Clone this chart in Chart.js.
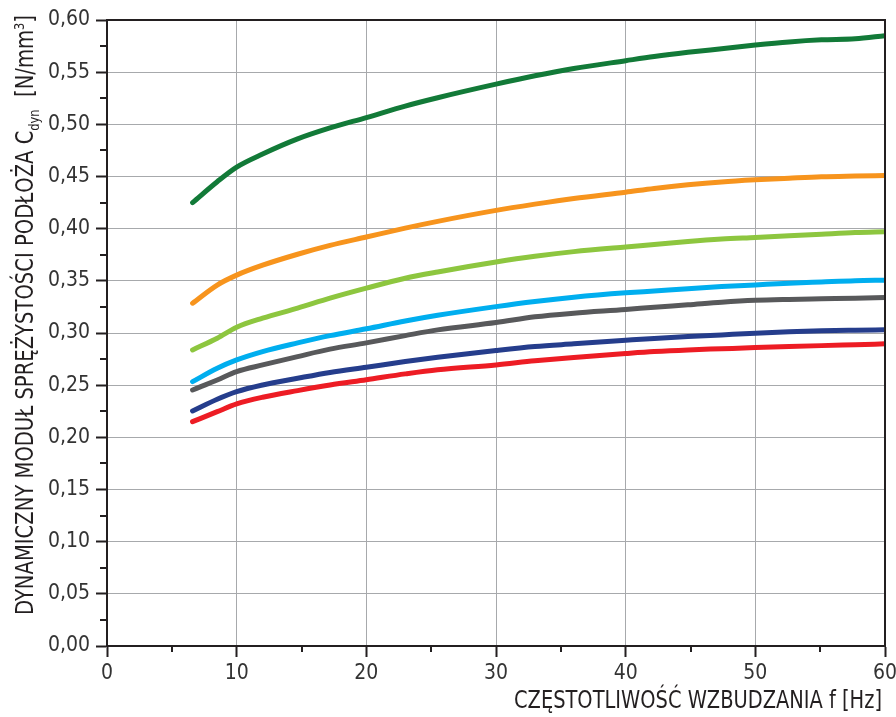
<!DOCTYPE html>
<html><head><meta charset="utf-8">
<script src="https://cdn.jsdelivr.net/npm/chart.js@4"></script>
<style>html,body{margin:0;padding:0;background:#fff}#wrap{width:896px;height:717px;position:relative}</style>
</head><body><div id="wrap"><canvas id="c" width="896" height="717"></canvas></div>
<script>
// ---- data ----
const frequencies = [6.6, 8.5, 10, 12, 14.7, 17.2, 20, 23, 25.5, 30, 33, 36, 40, 42.2, 44.8, 47.4, 50, 52.6, 55.1, 57.7, 60];
const seriesDarkGreen = [0.425, 0.445, 0.459, 0.4715, 0.486, 0.4965, 0.5065, 0.5175, 0.5255, 0.5385, 0.5465, 0.5535, 0.561, 0.565, 0.569, 0.5725, 0.576, 0.579, 0.581, 0.582, 0.585];
const seriesOrange    = [0.3286, 0.346, 0.3555, 0.365, 0.3755, 0.384, 0.392, 0.4005, 0.407, 0.4175, 0.4235, 0.429, 0.435, 0.4385, 0.442, 0.4448, 0.4468, 0.4484, 0.4498, 0.4505, 0.451];
const seriesLightGreen= [0.2838, 0.295, 0.3055, 0.3142, 0.3238, 0.3334, 0.343, 0.3525, 0.3585, 0.368, 0.3735, 0.378, 0.3825, 0.3848, 0.3877, 0.390, 0.3915, 0.3931, 0.3947, 0.3963, 0.397];
const seriesCyan      = [0.2534, 0.2662, 0.2742, 0.2822, 0.2905, 0.2975, 0.304, 0.3115, 0.317, 0.3253, 0.3302, 0.3343, 0.3385, 0.3403, 0.3425, 0.3445, 0.3461, 0.3477, 0.3489, 0.3501, 0.3506];
const seriesGray      = [0.2454, 0.255, 0.263, 0.2694, 0.2774, 0.2845, 0.2905, 0.2975, 0.303, 0.310, 0.3155, 0.319, 0.3225, 0.3247, 0.327, 0.3295, 0.3313, 0.3322, 0.3328, 0.3334, 0.334];
const seriesNavy      = [0.2253, 0.2365, 0.2438, 0.2502, 0.2566, 0.2622, 0.2672, 0.2726, 0.2767, 0.2832, 0.287, 0.2896, 0.293, 0.2948, 0.2966, 0.2982, 0.2998, 0.3012, 0.3022, 0.3027, 0.303];
const seriesRed       = [0.215, 0.2246, 0.232, 0.2384, 0.2448, 0.2502, 0.2552, 0.2608, 0.2648, 0.2694, 0.2733, 0.2765, 0.2803, 0.2822, 0.2838, 0.2849, 0.286, 0.287, 0.2879, 0.2888, 0.2896];
const xTickLabels = ['0', '10', '20', '30', '40', '50', '60'];
const yTickLabels = ['0,00','0,05','0,10','0,15','0,20','0,25','0,30','0,35','0,40','0,45','0,50','0,55','0,60'];
const xTitle = 'CZĘSTOTLIWOŚĆ WZBUDZANIA f [Hz]';
const yTitleMain = 'DYNAMICZNY MODUŁ SPRĘŻYSTOŚCI PODŁOŻA C';
const yTitleSub = 'dyn';
const yTitleUnit = '  [N/mm';
const yTitleSup = '3';
const yTitleEnd = ']';

// ---- style ----
const FONT = "'Liberation Sans Narrow','DejaVu Sans Condensed','Roboto',sans-serif";
const AXIS = '#231f20';
const GRID = '#a7a9ac';
const TEXT = '#333333';

const series = [
  {values: seriesRed, color: '#ed1c24'},
  {values: seriesNavy, color: '#253d8c'},
  {values: seriesGray, color: '#58595b'},
  {values: seriesCyan, color: '#00aeef'},
  {values: seriesLightGreen, color: '#8dc63f'},
  {values: seriesOrange, color: '#f7941d'},
  {values: seriesDarkGreen, color: '#127a38'}
];

const framePlugin = {
  id: 'frame',
  afterDatasetsDraw(chart) {
    const {ctx, chartArea: a, scales} = chart;
    ctx.save();
    ctx.strokeStyle = AXIS; ctx.lineWidth = 2;
    scales.y.ticks.forEach((t, i) => {
      if (i % 2 === 1) {
        const py = Math.round(scales.y.getPixelForValue(t.value));
        ctx.beginPath(); ctx.moveTo(a.left - 7, py); ctx.lineTo(a.left, py); ctx.stroke();
      }
    });
    scales.x.ticks.forEach((t, i) => {
      if (i % 2 === 1) {
        const px = Math.round(scales.x.getPixelForValue(t.value));
        ctx.beginPath(); ctx.moveTo(px, a.bottom); ctx.lineTo(px, a.bottom + 6); ctx.stroke();
      }
    });
    ctx.beginPath();
    ctx.moveTo(a.left, a.top); ctx.lineTo(a.right, a.top); ctx.lineTo(a.right, a.bottom);
    ctx.stroke();
    ctx.restore();
  },
  afterDraw(chart) {
    const ctx = chart.ctx;
    ctx.save();
    ctx.fillStyle = AXIS;
    ctx.font = '24px ' + FONT;
    const wx = ctx.measureText(xTitle).width;
    const targetX = 368;
    ctx.save();
    ctx.translate(514, 708);
    ctx.scale(targetX / wx, 1);
    ctx.fillText(xTitle, 0, 0);
    ctx.restore();

    const big = '24px ' + FONT, small = '14px ' + FONT;
    const parts = [
      {t: yTitleMain, f: big, dy: 0},
      {t: yTitleSub, f: small, dy: 6},
      {t: yTitleUnit, f: big, dy: 0},
      {t: yTitleSup, f: small, dy: -9},
      {t: yTitleEnd, f: big, dy: 0}
    ];
    let total = 0;
    parts.forEach(p => { ctx.font = p.f; p.w = ctx.measureText(p.t).width; total += p.w; });
    const targetY = 600;
    ctx.save();
    ctx.translate(24, 315);
    ctx.rotate(-Math.PI / 2);
    ctx.scale(targetY / total, 1);
    let x = -total / 2;
    parts.forEach(p => { ctx.font = p.f; ctx.fillText(p.t, x, 9 + p.dy); x += p.w; });
    ctx.restore();
    ctx.restore();
  }
};

new Chart(document.getElementById('c'), {
  type: 'line',
  data: {
    datasets: series.map(s => ({
      data: frequencies.map((f, i) => ({x: f, y: s.values[i]})),
      borderColor: s.color,
      borderWidth: 5,
      pointRadius: 0,
      fill: false,
      cubicInterpolationMode: 'monotone',
      borderCapStyle: 'round',
      borderJoinStyle: 'round'
    }))
  },
  options: {
    responsive: false,
    animation: false,
    devicePixelRatio: 1,
    layout: {padding: {left: 0, top: 20, right: 11, bottom: 0}},
    plugins: {legend: {display: false}, tooltip: {enabled: false}},
    scales: {
      x: {
        type: 'linear', min: 0, max: 60,
        ticks: {stepSize: 5, autoSkip: false, maxRotation: 0,
          callback: (v, i) => (i % 2 === 0 ? xTickLabels[i / 2] : ''),
          color: TEXT, font: {family: FONT, size: 21}, padding: 4},
        grid: {color: c => (c.index % 2 === 0 ? GRID : 'rgba(0,0,0,0)'), lineWidth: 1,
          tickLength: 11, tickColor: c => (c.index % 2 === 0 ? AXIS : 'rgba(0,0,0,0)'), tickWidth: 2},
        border: {color: AXIS, width: 2},
        afterFit(s) { s.height = 71; s.paddingLeft = 0; s.paddingRight = 0; }
      },
      y: {
        min: 0, max: 0.6,
        ticks: {stepSize: 0.025, autoSkip: false,
          callback: (v, i) => (i % 2 === 0 ? yTickLabels[i / 2] : ''),
          color: TEXT, font: {family: FONT, size: 21}, padding: 6},
        grid: {color: c => (c.index % 2 === 0 ? GRID : 'rgba(0,0,0,0)'), lineWidth: 1,
          tickLength: 11, tickColor: c => (c.index % 2 === 0 ? AXIS : 'rgba(0,0,0,0)'), tickWidth: 2},
        border: {color: AXIS, width: 2},
        afterFit(s) { s.width = 107; s.paddingTop = 0; s.paddingBottom = 0; }
      }
    }
  },
  plugins: [framePlugin]
});
</script>
</body></html>
